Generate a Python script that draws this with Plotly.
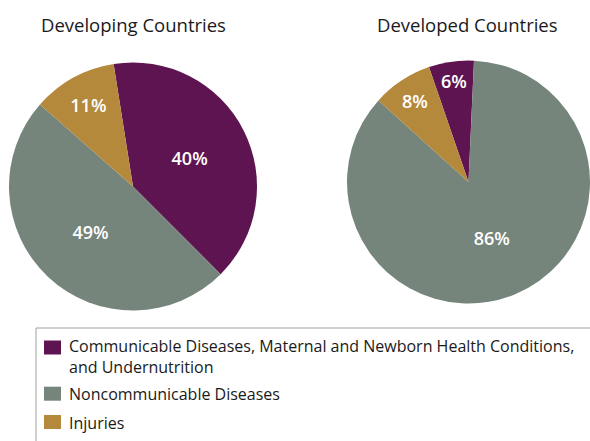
import plotly.graph_objects as go

categories = ["Communicable Diseases, Maternal and Newborn Health Conditions,<br>and Undernutrition",
              "Noncommunicable Diseases", "Injuries"]
developing = [40, 49, 11]
developed = [6, 86, 8]
titles = ["Developing Countries", "Developed Countries"]
colors = ["#5E1450", "#76857C", "#B5893B"]

W, H = 590, 441
def px(x): return x / W
def py(y): return 1 - y / H

font_family = "'Open Sans', sans-serif"

fig = go.Figure()
fig.add_trace(go.Pie(
    labels=categories, values=developing, sort=False, direction="clockwise",
    rotation=-9, marker=dict(colors=colors, line=dict(width=0)),
    texttemplate="%{value}%", textposition="inside", insidetextorientation="horizontal",
    textfont=dict(color="white", size=18, family=font_family, weight=600),
    domain=dict(x=[px(9), px(257)], y=[py(310.5), py(62.5)]),
    showlegend=False, hoverinfo="label+value"))
fig.add_trace(go.Pie(
    labels=categories, values=developed, sort=False, direction="clockwise",
    rotation=-19, marker=dict(colors=colors, line=dict(width=0)),
    texttemplate="%{value}%", textposition="inside", insidetextorientation="horizontal",
    textfont=dict(color="white", size=18, family=font_family, weight=600),
    domain=dict(x=[px(347), 1], y=[py(305), py(59)]),
    showlegend=False, hoverinfo="label+value"))

annotations = []
for t, cx in zip(titles, [133, 467.5]):
    annotations.append(dict(text=t, x=px(cx), y=py(25), xref="paper", yref="paper",
                            showarrow=False, xanchor="center", yanchor="middle",
                            font=dict(size=18.5, color="#1a1a1a", family=font_family)))

shapes = [dict(type="rect", xref="paper", yref="paper", x0=px(36), x1=px(600),
               y0=py(460), y1=py(328), line=dict(color="#9AA39E", width=1))]
sq_centers = [347.5, 393.7, 422]
text_centers = [356.5, 394, 423]
for c, sc, tc, lab in zip(colors, sq_centers, text_centers, categories):
    shapes.append(dict(type="rect", xref="paper", yref="paper", x0=px(44), x1=px(61),
                       y0=py(sc + 7), y1=py(sc - 7), fillcolor=c, line=dict(width=0)))
    annotations.append(dict(text=lab, x=px(67), y=py(tc), xref="paper", yref="paper",
                            showarrow=False, xanchor="left", yanchor="middle", align="left",
                            font=dict(size=16, color="#1a1a1a", family=font_family)))

fig.update_layout(width=W, height=H, margin=dict(l=0, r=0, t=0, b=0),
                  paper_bgcolor="white", plot_bgcolor="white",
                  annotations=annotations, shapes=shapes, showlegend=False)
fig.write_html("out.html")
